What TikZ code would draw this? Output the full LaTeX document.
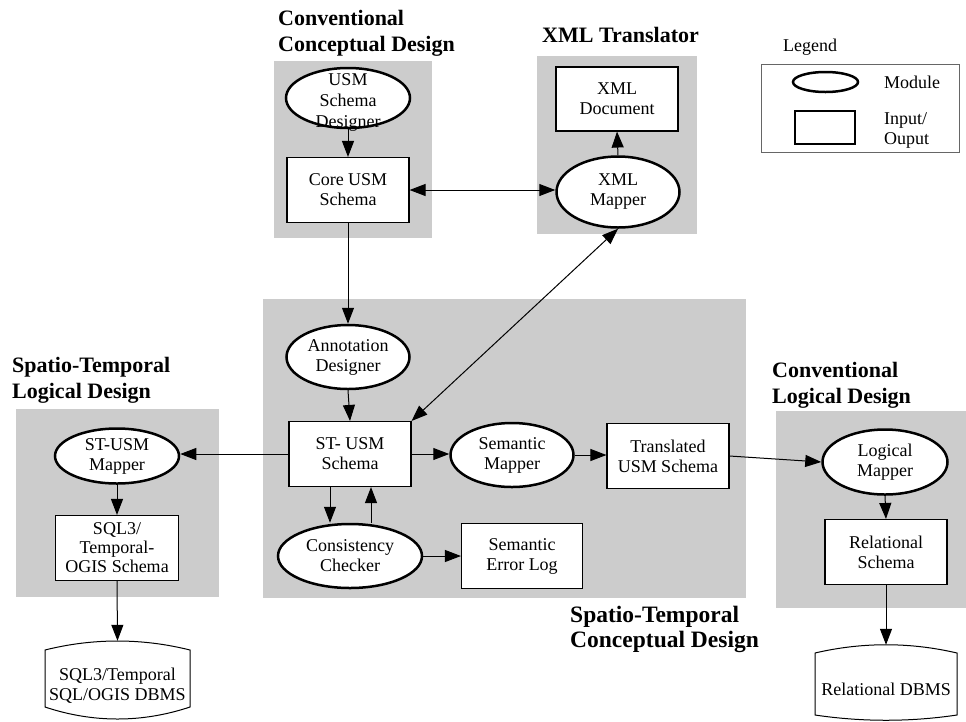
\documentclass[tikz,border=0pt]{standalone}
\usepackage{fontspec}
\setmainfont{Liberation Serif}
\usetikzlibrary{shapes.geometric,arrows.meta,calc}
\definecolor{gbox}{RGB}{204,204,204}
\begin{document}
\begin{tikzpicture}[x=1pt,y=-1pt,
  every node/.style={font=\fontsize{18}{20}\selectfont, inner sep=0pt, align=center},
  module/.style={ellipse, draw, line width=2.5pt, fill=white},
  iobox/.style={rectangle, draw, line width=1.1pt, fill=white},
  conn/.style={line width=1pt, -{Triangle[length=16pt,width=12pt]}},
  biconn/.style={line width=1pt, {Triangle[length=16pt,width=12pt]}-{Triangle[length=16pt,width=12pt]}},
  title/.style={font=\fontsize{22}{26}\selectfont\bfseries, align=left, anchor=west},
  dbline/.style={line width=1pt}]
\useasboundingbox (0,0) rectangle (966,721);
% gray regions
\fill[gbox] (274,61) rectangle (432,238);
\fill[gbox] (537,56) rectangle (697,234);
\fill[gbox] (263,299) rectangle (746,598);
\fill[gbox] (16,409) rectangle (219,597);
\fill[gbox] (776,411) rectangle (966,608);

% titles
\node[title] (t1) at (278,33.4) {Conventional\\Conceptual Design};
\node[title, anchor=base west] (t2) at (542,42) {XML Translator};
\node[title] (t3) at (12,380) {Spatio-Temporal\\Logical Design};
\node[title] (t4) at (772,385) {Conventional\\Logical Design};
\node[title, font=\fontsize{23.5}{25}\selectfont\bfseries] (t5) at (570,629) {Spatio-Temporal\\Conceptual Design};

% legend
\node[draw=black!60, line width=0.6pt, minimum width=198, minimum height=88] (legbox) at (860,108) {};
\node (legtitle) at (810,47) {Legend};
\node[module, minimum width=65, minimum height=20] (legmod) at (825.5,82) {};
\node[iobox, minimum width=60, minimum height=33] (legio) at (825,127.5) {};
\node[anchor=west] (legmodt) at (884,82) {Module};
\node[anchor=west, align=left] (legiot) at (884,130) {Input/\\Ouput};

% conventional conceptual design
\node[module, minimum width=124, minimum height=60] (usd) at (348,98) {};
\node[font=\fontsize{18}{21}\selectfont] (usdtext) at (348,102) {USM\\Schema\\Designer};
\node[iobox, minimum width=122, minimum height=65] (core) at (348,190) {Core USM\\Schema};

% xml translator
\node[iobox, minimum width=122, minimum height=64] (xmld) at (617,99) {XML\\Document};
\node[module, minimum width=123, minimum height=71] (xmlm) at (618,192) {XML\\Mapper};

% spatio-temporal conceptual design
\node[module, minimum width=123, minimum height=64] (ann) at (348,357) {Annotation\\Designer};
\node[iobox, minimum width=122, minimum height=65] (st) at (350,454) {ST- USM\\Schema};
\node[module, minimum width=123, minimum height=64] (sm) at (512,455) {Semantic\\Mapper};
\node[iobox, minimum width=122, minimum height=65] (trans) at (668,456) {Translated\\USM Schema};
\node[module, minimum width=144, minimum height=64] (cc) at (350,556) {Consistency\\Checker};
\node[iobox, minimum width=121, minimum height=65] (sel) at (522,556) {Semantic\\Error Log};

% spatio-temporal logical design
\node[module, minimum width=124, minimum height=55] (stm) at (117,456) {ST-USM\\Mapper};
\node[iobox, minimum width=123, minimum height=65, font=\fontsize{18}{19}\selectfont] (sql) at (117,548) {SQL3/\\Temporal-\\OGIS Schema};

% conventional logical design
\node[module, minimum width=125, minimum height=65] (lm) at (885,462) {Logical\\Mapper};
\node[iobox, minimum width=122, minimum height=65] (rs) at (886,552) {Relational\\Schema};

% databases
\draw[dbline] (45,650) .. controls (93,638) and (142,638) .. (190,650) -- (190,707) .. controls (142,723) and (93,723) .. (45,707) -- cycle;
\node[minimum width=145, minimum height=90] (dbL) at (117.5,686) {SQL3/Temporal\\SQL/OGIS DBMS};
\draw[dbline] (815,653) .. controls (862,642) and (910,642) .. (957,653) -- (957,715) .. controls (910,722) and (862,722) .. (815,715) -- cycle;
\node[minimum width=142, minimum height=88] (dbR) at (886,689) {Relational DBMS};

% connectors
\draw[conn] (usd.south) -- (core.north);
\draw[biconn] (core.east) -- (core.east -| xmlm.west);
\draw[conn] (xmlm.north) -- (xmld.south);
\draw[conn] (core.south) -- (ann.north);
\draw[biconn] (st.north east) -- (xmlm.south);
\draw[conn] (ann.south) -- (st.north);
\draw[conn] (st.west) -- (st.west -| stm.east);
\draw[conn] (st.east) -- (st.east -| sm.west);
\draw[conn] (sm.east) -- (sm.east -| trans.west);
\draw[conn] (trans.east) -- (lm.west);
\draw[conn] ([xshift=-20pt]st.south) -- ([xshift=-20pt]st.south |- cc.north);
\draw[conn] ([xshift=21pt]st.south |- cc.north) -- ([xshift=21pt]st.south);
\draw[conn] (cc.east) -- (sel.west);
\draw[conn] (stm.south) -- (sql.north);
\draw[conn] (sql.south) -- (dbL.north);
\draw[conn] (lm.south) -- (rs.north);
\draw[conn] (rs.south) -- (dbR.north);
\end{tikzpicture}
\end{document}
